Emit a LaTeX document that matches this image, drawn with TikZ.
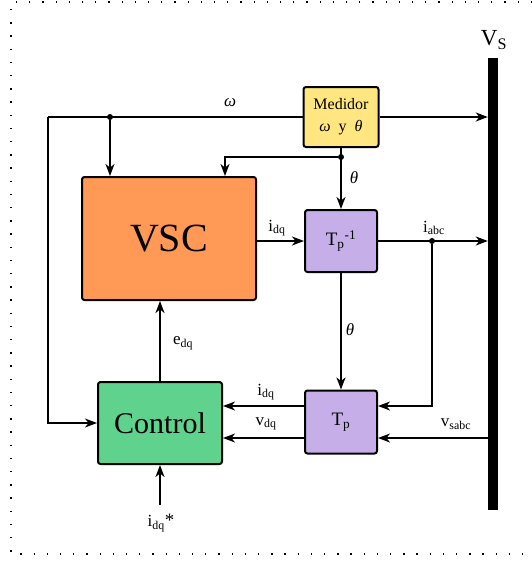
\documentclass[tikz,border=0pt]{standalone}
\usepackage{fontspec}
\setmainfont{Liberation Serif}
\usetikzlibrary{arrows.meta, positioning, calc}

\definecolor{vscorange}{HTML}{FF9955}
\definecolor{medyellow}{HTML}{FFE680}
\definecolor{tplilac}{HTML}{C6AFE9}
\definecolor{ctrlgreen}{HTML}{5FD38D}

\begin{document}
\begin{tikzpicture}[x=1pt, y=-1pt,
  >={Stealth[length=12pt, width=9pt, inset=3.5pt]},
  blk/.style={draw, line width=2pt, rounded corners=2.5pt, inner sep=0pt},
  conn/.style={line width=1.5pt},
  lbl/.style={font=\fontsize{17}{19}\selectfont, inner sep=0pt},
  dotpt/.style={circle, fill, inner sep=0pt, minimum size=6pt}]
  \useasboundingbox (0,0) rectangle (532,568);
  % Dotted frame (open on the right)
  \draw[line width=1.3pt, dash pattern=on 1.3pt off 11.9pt]
    (532,2) -- (11,2) -- (11,554) -- (532,554);
  % Bus bar
  \node[fill=black, inner sep=0pt, minimum width=10pt, minimum height=452pt]
    (bus) at (493,284) {};
  \node[font=\fontsize{23}{25}\selectfont] (vslbl) at (494,40) {V\textsubscript{S}};
  % Blocks
  \node[blk, fill=medyellow, minimum width=75pt, minimum height=60pt,
    align=center, font=\fontsize{16}{22}\selectfont] (med) at (341,117)
    {Medidor\\{\itshape ω}\hspace{0.5em}y\hspace{0.5em}{\itshape θ}};
  \node[blk, fill=vscorange, minimum width=174pt, minimum height=123pt,
    font=\fontsize{40}{44}\selectfont] (vsc) at (169,238.5) {VSC};
  \node[blk, fill=tplilac, minimum width=72pt, minimum height=62pt,
    font=\fontsize{19}{21}\selectfont] (tpi) at (341,241)
    {T\textsubscript{p}\textsuperscript{-1}};
  \node[blk, fill=tplilac, minimum width=72pt, minimum height=63pt,
    font=\fontsize{19}{21}\selectfont] (tp) at (341,422) {T\textsubscript{p}};
  \node[blk, fill=ctrlgreen, minimum width=124pt, minimum height=82pt,
    font=\fontsize{30}{34}\selectfont] (ctrl) at (160,423) {Control};
  % Junctions
  \node[dotpt] (wdot) at (110,117) {};
  \node[dotpt] (tdot) at (341,157) {};
  \node[dotpt] (iabc) at (432,241) {};
  \coordinate (wleft) at (48,117);
  \coordinate (tvsc) at (225,157);
  \coordinate (vs) at (488,438);
  \coordinate (idqout) at (305,406);
  \coordinate (vdqout) at (305,438);
  \coordinate (iref) at (160,505);
  % omega path
  \draw[conn] (med.west) -- (wleft);
  \draw[conn,->] (wleft) |- (ctrl.west);
  \draw[conn,->] (wdot) -- (wdot |- vsc.north);
  \draw[conn,->] (med.east) -- (med.east -| bus.west);
  % theta path
  \draw[conn,->] (med.south) -- (tpi.north);
  \draw[conn,->] (tdot) -| (tvsc |- vsc.north);
  \draw[conn,->] (tpi.south) -- (tp.north);
  % currents and voltages
  \draw[conn,->] (vsc.east |- tpi.west) -- (tpi.west);
  \draw[conn,->] (tpi.east) -- (tpi.east -| bus.west);
  \draw[conn,->] (iabc) |- (idqout -| tp.east);
  \draw[conn,->] (vs) -- (vs -| tp.east);
  \draw[conn,->] (idqout) -- (idqout -| ctrl.east);
  \draw[conn,->] (vdqout) -- (vdqout -| ctrl.east);
  \draw[conn,->] (ctrl.north) -- (ctrl.north |- vsc.south);
  \draw[conn,->] (iref) -- (ctrl.south);
  % Labels
  \node[lbl] (wlbl) at (230,103) {\itshape ω};
  \node[lbl] (tlbl1) at (354,178) {\itshape θ};
  \node[lbl] (tlbl2) at (350,330) {\itshape θ};
  \node[lbl] (idq1) at (277,228) {i\textsubscript{dq}};
  \node[lbl] (iabclbl) at (434,228) {i\textsubscript{abc}};
  \node[lbl] (idq2) at (266,392) {i\textsubscript{dq}};
  \node[lbl] (vdq) at (266,424) {v\textsubscript{dq}};
  \node[lbl] (vsabc) at (456,424) {v\textsubscript{sabc}};
  \node[lbl] (edq) at (183,343) {e\textsubscript{dq}};
  \node[lbl] (idqref) at (161,523) {i\textsubscript{dq}{\fontsize{19}{19}\selectfont *}};
\end{tikzpicture}
\end{document}
